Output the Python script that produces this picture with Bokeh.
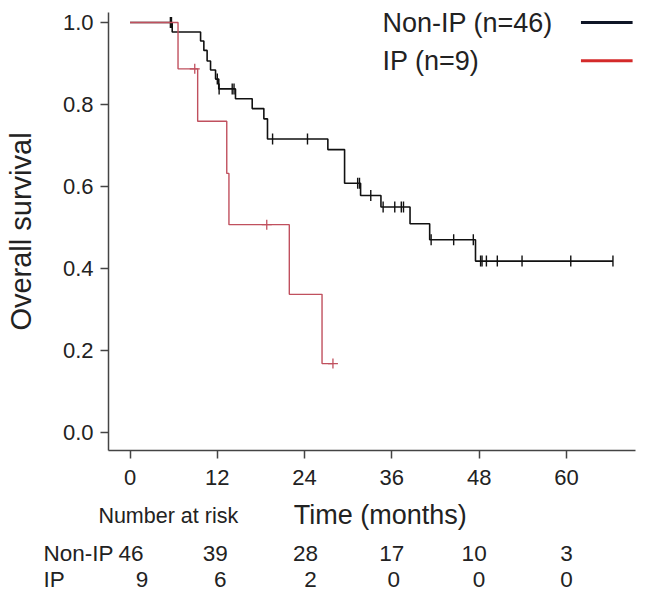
import numpy as np
from bokeh.plotting import figure
from bokeh.layouts import column, row
from bokeh.models import Range1d, FixedTicker, PrintfTickFormatter, Label
from bokeh.core.properties import value
from bokeh.embed import file_html
from bokeh.resources import INLINE

# ---------------- data ----------------
x_ticks = [0, 12, 24, 36, 48, 60]
y_ticks = [0.0, 0.2, 0.4, 0.6, 0.8, 1.0]

nonip_times = [0, 5.8, 9.7, 10.15, 10.6, 11.07, 11.76, 12.2, 14.5, 16.8, 18.4, 18.9,
               27.2, 29.5, 31.7, 34.5, 38.5, 41.2, 47.5]
nonip_surv = [1.0, 0.977, 0.955, 0.932, 0.906, 0.884, 0.862, 0.838, 0.814, 0.790, 0.765, 0.716,
              0.690, 0.608, 0.578, 0.550, 0.509, 0.470, 0.418]
nonip_end = 66.4
nonip_censor = [5.55, 5.7, 12.0, 12.25, 14.05, 14.3, 19.6, 24.4, 31.3, 31.55, 33.1, 34.8,
                36.4, 37.3, 37.6, 41.4, 44.5, 47.2, 48.2, 48.4, 49.0, 50.5, 53.9, 60.6, 66.4]

ip_times = [0, 6.6, 9.3, 13.3, 13.6, 21.9, 26.4]
ip_surv = [1.0, 0.887, 0.759, 0.632, 0.507, 0.337, 0.168]
ip_end = 27.9
ip_censor = [8.9, 18.8, 27.9]

group_names = ["Non-IP", "IP"]
legend_labels = ["Non-IP (n=46)", "IP (n=9)"]
risk_times = [0, 12, 24, 36, 48, 60]
risk_nonip = [46, 39, 28, 17, 10, 3]
risk_ip = [9, 6, 2, 0, 0, 0]

BLACK = "#111111"
RED = "#c0505e"
FONT = "Liberation Sans"
TXT = "#222222"

X0, X1 = -2.96, 69.5
LEFT, RIGHT = 108, 11
W = 646

# ---------------- main figure ----------------
p = figure(width=W, height=500, output_backend="svg", toolbar_location=None,
           x_range=Range1d(X0, X1), y_range=Range1d(-0.0439, 1.0244),
           min_border_left=LEFT, min_border_right=RIGHT, min_border_top=12, min_border_bottom=50)
p.outline_line_color = None
p.grid.visible = False

for ax in (p.xaxis[0], p.yaxis[0]):
    ax.axis_line_color = "#444444"
    ax.axis_line_width = 1.5
    ax.major_tick_line_color = "#444444"
    ax.major_tick_line_width = 1.5
    ax.major_tick_in = 0
    ax.major_tick_out = 8
    ax.minor_tick_line_color = None
    ax.major_label_text_font = FONT
    ax.major_label_text_font_size = "22px"
    ax.major_label_text_color = TXT

p.xaxis.ticker = FixedTicker(ticks=x_ticks)
p.yaxis.ticker = FixedTicker(ticks=y_ticks)
p.yaxis.formatter = PrintfTickFormatter(format="%.1f")
p.xaxis.major_label_standoff = 11
p.yaxis.major_label_standoff = 7

p.yaxis.axis_label = "Overall survival"
p.yaxis.axis_label_text_font = FONT
p.yaxis.axis_label_text_font_size = "29px"
p.yaxis.axis_label_text_font_style = "normal"
p.yaxis.axis_label_text_color = TXT
p.yaxis.axis_label_standoff = 23


def step_xy(times, surv, end):
    return list(times) + [end], list(surv) + [surv[-1]]


def at(times, surv, t):
    idx = np.searchsorted(np.array(times), np.array(t), side="right") - 1
    return list(np.array(surv)[idx])


# Non-IP curve
xs, ys = step_xy(nonip_times, nonip_surv, nonip_end)
p.step(xs, ys, mode="after", line_color=BLACK, line_width=1.6)
p.scatter(nonip_censor, at(nonip_times, nonip_surv, nonip_censor), marker="dash",
          angle=np.pi / 2, size=11, line_color=BLACK, line_width=1.4, fill_color=None)

# IP curve
xs, ys = step_xy(ip_times, ip_surv, ip_end)
p.step(xs, ys, mode="after", line_color=RED, line_width=1.4)
p.scatter(ip_censor, at(ip_times, ip_surv, ip_censor), marker="cross",
          size=10, line_color=RED, line_width=1.3, fill_color=None)

# legend (text left, line right)
leg_y = [1.0, 0.907]
leg_colors = ["#0e1526", "#d42a2a"]
for lab, yy, col in zip(legend_labels, leg_y, leg_colors):
    p.add_layout(Label(x=34.7, y=yy, text=lab, text_font=FONT, text_font_size="27px",
                       text_baseline="middle", text_align="left", text_color=TXT))
    p.segment(x0=[62.0], y0=[yy], x1=[69.1], y1=[yy], line_color=col, line_width=3)

# ---------------- number-at-risk panel ----------------
scale = (W - LEFT - RIGHT) / (X1 - X0)
bx0 = X0 - LEFT / scale
bx1 = X0 + (W - LEFT) / scale
H2 = 94
q = figure(width=W, height=H2, output_backend="svg", toolbar_location=None,
           x_range=Range1d(bx0, bx1), y_range=Range1d(H2, 0),
           x_axis_location=None, y_axis_location=None,
           min_border_left=0, min_border_right=0, min_border_top=0, min_border_bottom=0)
q.outline_line_color = None
q.grid.visible = False

q.text(x=[34.4], y=[14], text=["Time (months)"], text_font=value(FONT),
       text_font_size="27px", text_align="center", text_baseline="middle", text_color=TXT)
q.text(x=[-4.35], y=[15], text=["Number at risk"], text_font=value(FONT),
       text_font_size="21.5px", text_align="left", text_baseline="middle", text_color=TXT)

row_y = [53, 79]
row_offsets = [[1, -2, 1, 0, -5, 0], [12, 3, 6, 2, 0, 0]]
for name, counts, yy, offs in zip(group_names, [risk_nonip, risk_ip], row_y, row_offsets):
    q.text(x=[-11.9], y=[yy], text=[name], text_font=value(FONT), text_font_size="22.5px",
           text_align="left", text_baseline="middle", text_color=TXT)
    q.text(x=[t + o / scale for t, o in zip(risk_times, offs)], y=[yy] * len(counts),
           text=[str(c) for c in counts], text_font=value(FONT), text_font_size="22.5px",
           text_align="center", text_baseline="middle", text_color=TXT)

layout = column(p, row(q, spacing=0), spacing=0)
open("out.html", "w").write(file_html(layout, INLINE))
